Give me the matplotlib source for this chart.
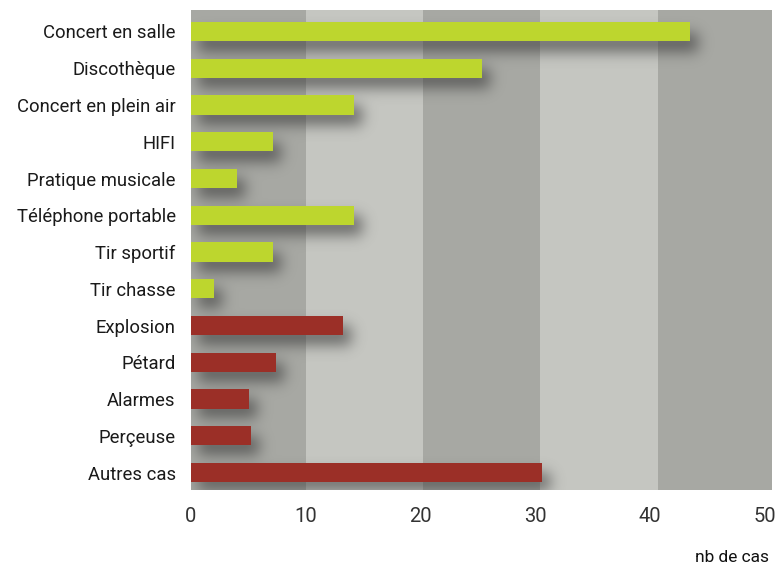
import matplotlib.pyplot as plt
import numpy as np

categories = [
    "Concert en salle", "Discothèque", "Concert en plein air", "HIFI",
    "Pratique musicale", "Téléphone portable", "Tir sportif", "Tir chasse",
    "Explosion", "Pétard", "Alarmes", "Perçeuse", "Autres cas",
]
values = [43.5, 25.3, 14.2, 7.1, 4.0, 14.2, 7.1, 2.0, 13.2, 7.4, 5.05, 5.2, 30.6]
groups = ["loisir"] * 8 + ["accident"] * 5
band_edges = [0, 10, 20.2, 30.4, 40.7, 50.6]
xticks = [0, 10, 20, 30, 40, 50]

colors = {"loisir": "#bdd62e", "accident": "#9b2f27"}
band_colors = ["#a7a8a3", "#c5c6c1"]

W, H = 775, 564
fig = plt.figure(figsize=(W / 100, H / 100), dpi=100)
ax = fig.add_axes([191 / W, (H - 490) / H, (772 - 191) / W, 480 / H])

xmax = band_edges[-1]
y_lo, y_hi = -0.585, len(categories) - 1 + 0.476
ax.set_xlim(0, xmax)
ax.set_ylim(y_hi, y_lo)

# alternating vertical bands
for i in range(len(band_edges) - 1):
    ax.axvspan(band_edges[i], band_edges[i + 1], color=band_colors[i % 2],
               lw=0, zorder=0)

# blurred drop shadow behind each bar
nx, ny = 581, 480
xs = np.linspace(0, xmax, nx)
ys = np.linspace(y_lo, y_hi, ny)
X, Y = np.meshgrid(xs, ys)
mask = np.zeros((ny, nx))
bar_h = 0.52
dx = 0.7
dy = 0.28
for i, v in enumerate(values):
    inside = (X >= 0.6) & (X <= v + dx) & (Y >= i - bar_h / 2 + dy) & (Y <= i + bar_h / 2 + dy)
    mask[inside] = 1.0

k = np.arange(-26, 27)
kern = np.exp(-k ** 2 / (2 * 7.0 ** 2))
kern /= kern.sum()
blur = np.apply_along_axis(lambda r: np.convolve(r, kern, mode="same"), 1, mask)
blur = np.apply_along_axis(lambda c: np.convolve(c, kern, mode="same"), 0, blur)
shadow = np.zeros((ny, nx, 4))
shadow[..., 0:3] = 0.2
shadow[..., 3] = np.clip(blur * 1.25, 0, 1) * 0.5
ax.imshow(shadow, extent=[0, xmax, y_hi, y_lo], aspect="auto",
          interpolation="bilinear", zorder=1)

y = np.arange(len(categories))
ax.barh(y, values, height=bar_h, color=[colors[g] for g in groups],
        lw=0, zorder=2)

ax.set_xlim(0, xmax)
ax.set_ylim(y_hi, y_lo)

ax.set_yticks(y)
ax.set_yticklabels(categories, fontsize=13.3, color="#1a1a1a", family="Roboto")
ax.set_xticks(xticks)
ax.set_xticklabels([str(t) for t in xticks], fontsize=14.5, color="#333333",
                   family="Roboto")
ax.tick_params(axis="y", length=0, pad=11)
ax.tick_params(axis="x", length=0, pad=12)
for s in ax.spines.values():
    s.set_visible(False)

fig.text(769 / W, 1 - 557 / H, "nb de cas", ha="right", va="center",
         fontsize=12.5, color="#111111", family="Roboto")

fig.savefig("out.png", dpi=100)
